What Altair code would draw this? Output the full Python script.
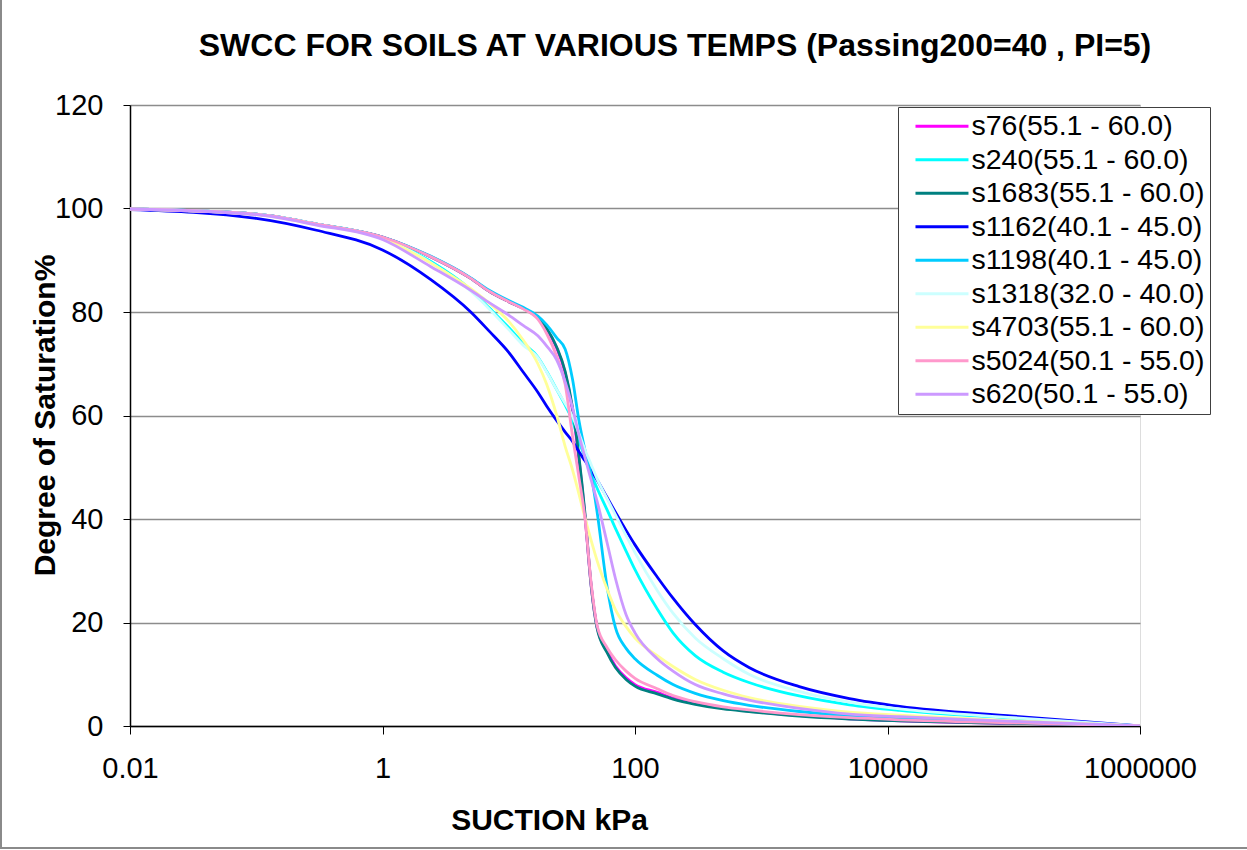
import altair as alt
import pandas as pd

# Suction values (kPa) at which each soil-water characteristic curve is tabulated
suction = [0.01, 0.1, 0.3, 1, 2.4, 5, 7, 10, 13, 17, 20, 24, 28, 32, 36, 40, 45, 50,
           60, 70, 85, 100, 150, 200, 300, 500, 800, 2000, 5000, 12500, 100000, 1000000]

# Degree of saturation (%) for each soil
s76 = [99.9, 98.9, 97.0, 94.5, 90.7, 86.5, 84.0, 82.0, 80.7, 78.9, 76.6, 73.0, 68.2, 61.0, 51.5,
       41.0, 27.0, 19.2, 14.5, 11.6, 9.3, 8.0, 6.5, 5.4, 4.4, 3.5, 2.9, 2.0, 1.4, 1.0, 0.5, 0.0]
s240 = [99.9, 98.9, 97.0, 94.3, 89.8, 84.3, 80.8, 77.0, 74.0, 71.3, 68.5, 65.0, 62.0, 59.0, 55.0,
        52.0, 48.7, 46.0, 41.8, 38.2, 33.8, 30.2, 22.6, 18.0, 13.6, 10.4, 8.4, 5.8, 4.1, 3.0, 1.5, 0.0]
s1683 = [99.9, 98.9, 97.0, 94.5, 90.7, 86.5, 84.0, 82.0, 80.7, 78.9, 76.8, 73.2, 68.5, 61.5, 52.0,
         41.5, 27.0, 19.0, 14.2, 11.3, 9.0, 7.7, 6.2, 5.2, 4.2, 3.3, 2.8, 1.9, 1.35, 1.0, 0.5, 0.0]
s1162 = [99.8, 98.1, 95.8, 92.0, 86.3, 80.0, 76.3, 72.2, 68.4, 64.5, 61.8, 59.0, 56.8, 55.0, 53.0,
         51.3, 49.4, 47.6, 44.2, 41.3, 37.8, 35.0, 28.8, 24.7, 19.6, 14.5, 11.3, 7.6, 5.3, 3.8, 1.9, 0.0]
s1198 = [99.9, 98.9, 97.0, 94.5, 90.8, 86.6, 84.2, 82.2, 80.9, 79.2, 77.5, 75.0, 72.8, 67.0, 59.0,
         53.5, 48.5, 41.5, 27.0, 19.0, 15.0, 13.0, 9.8, 8.0, 6.3, 4.9, 4.0, 2.8, 2.0, 1.5, 0.7, 0.0]
s1318 = [99.9, 98.9, 97.0, 94.3, 89.6, 84.0, 80.6, 76.6, 73.6, 71.2, 68.4, 65.0, 62.3, 59.8, 56.5,
         53.5, 50.5, 47.8, 44.0, 40.8, 36.8, 33.5, 26.2, 21.8, 17.0, 13.0, 10.0, 6.7, 4.6, 3.3, 1.6, 0.0]
s4703 = [99.9, 98.8, 96.9, 94.2, 89.5, 84.5, 81.7, 78.2, 74.6, 70.0, 66.0, 60.0, 54.0, 49.5, 44.8,
         40.4, 35.8, 32.0, 26.5, 22.5, 19.2, 17.0, 13.6, 11.5, 9.0, 6.9, 5.5, 3.8, 2.7, 2.1, 1.0, 0.0]
s5024 = [99.9, 98.9, 97.0, 94.5, 90.7, 86.5, 84.0, 82.0, 80.6, 78.6, 75.8, 71.4, 66.0, 56.0, 48.0,
         40.5, 27.5, 19.5, 15.2, 12.8, 10.6, 9.2, 7.2, 5.9, 4.7, 3.7, 3.1, 2.2, 1.6, 1.2, 0.6, 0.0]
s620 = [99.9, 98.8, 96.8, 94.0, 88.8, 84.2, 81.8, 79.4, 77.4, 75.4, 73.4, 70.7, 66.5, 61.5, 56.2,
        52.0, 47.5, 43.5, 35.5, 28.5, 21.5, 18.0, 13.0, 10.6, 8.0, 6.2, 5.0, 3.4, 2.3, 1.8, 0.9, 0.0]

series_names = ["s76(55.1 - 60.0)", "s240(55.1 - 60.0)", "s1683(55.1 - 60.0)",
                "s1162(40.1 - 45.0)", "s1198(40.1 - 45.0)", "s1318(32.0 - 40.0)",
                "s4703(55.1 - 60.0)", "s5024(50.1 - 55.0)", "s620(50.1 - 55.0)"]
series_values = [s76, s240, s1683, s1162, s1198, s1318, s4703, s5024, s620]
series_colors = ["#FF00FF", "#00FFFF", "#008080", "#0000FF", "#00CCFF",
                 "#CCFFFF", "#FFFF99", "#FF99CC", "#CC99FF"]

x_ticks = [0.01, 1, 100, 10000, 1000000]
y_ticks = [0, 20, 40, 60, 80, 100, 120]

rows = []
for order, (name, vals) in enumerate(zip(series_names, series_values)):
    for s, v in zip(suction, vals):
        rows.append({"soil": name, "order": order, "suction": s, "saturation": v})
df = pd.DataFrame(rows)

FONT = "Liberation Sans"

curves = alt.Chart(df).mark_line(
    strokeWidth=2.8, interpolate="monotone", clip=True
).encode(
    x=alt.X(
        "suction:Q",
        scale=alt.Scale(type="log", domain=[0.01, 1000000], nice=False),
        axis=alt.Axis(
            values=x_ticks, format=".2~f", grid=False,
            labelFlush=False, labelOverlap=False,
            labelFont=FONT, labelFontSize=29, labelColor="black", labelPadding=20,
            tickSize=8, tickColor="black", domainColor="black", domainWidth=1.5,
            title="SUCTION kPa", titleFont=FONT, titleFontSize=30, titleFontWeight="bold",
            titleColor="black", titleX=419, titleY=94, titleBaseline="middle", titleAlign="center",
        ),
    ),
    y=alt.Y(
        "saturation:Q",
        scale=alt.Scale(domain=[0, 120], nice=False),
        axis=alt.Axis(
            values=y_ticks, grid=True, gridColor="#8c8c8c", gridWidth=1.5,
            labelFont=FONT, labelFontSize=29, labelColor="black", labelPadding=20,
            tickSize=7, tickColor="black", domainColor="black", domainWidth=1.5,
            title="Degree of Saturation%", titleFont=FONT, titleFontSize=30,
            titleFontWeight="bold", titleColor="black",
            titleX=-85, titleY=310, titleBaseline="middle", titleAlign="center",
        ),
    ),
    color=alt.Color(
        "soil:N",
        scale=alt.Scale(domain=series_names, range=series_colors),
        sort=series_names,
        title=None,
        legend=alt.Legend(
            orient="none", legendX=768, legendY=2, direction="vertical",
            fillColor="white", strokeColor="#404040", padding=5,
            labelFont=FONT, labelFontSize=28.5, labelColor="black", labelLimit=400,
            symbolType="M-0.2,0H5.8", symbolSize=312, symbolStrokeWidth=3,
            labelOffset=40, rowPadding=4.5,
        ),
    ),
    order=alt.Order("order:Q"),
)

# thin gray frame along the left and bottom edges of the chart area
frame_src = alt.Chart(pd.DataFrame({"edge": ["left", "bottom"]}))
left_edge = frame_src.transform_filter(alt.datum.edge == "left").mark_rule(
    color="#8a8a8a", strokeWidth=2
).encode(x=alt.value(-129), y=alt.value(-105), y2=alt.value(744))
bottom_edge = frame_src.transform_filter(alt.datum.edge == "bottom").mark_rule(
    color="#8a8a8a", strokeWidth=2
).encode(x=alt.value(-130), x2=alt.value(1117), y=alt.value(743))

chart = alt.layer(curves, left_edge, bottom_edge).properties(
    width=1010,
    height=621,
    autosize=alt.AutoSizeParams(type="none"),
    padding={"left": 130, "top": 105, "right": 107, "bottom": 124},
    title=alt.TitleParams(
        "SWCC FOR SOILS AT VARIOUS TEMPS (Passing200=40 , PI=5)",
        font=FONT, fontSize=32, fontWeight="bold", color="black",
        anchor="middle", dx=40, offset=-64,
    ),
).configure_view(
    stroke="#808080", strokeWidth=2
).configure(background="white")

chart.save("out.html", embed_options={"renderer": "svg", "actions": False})
